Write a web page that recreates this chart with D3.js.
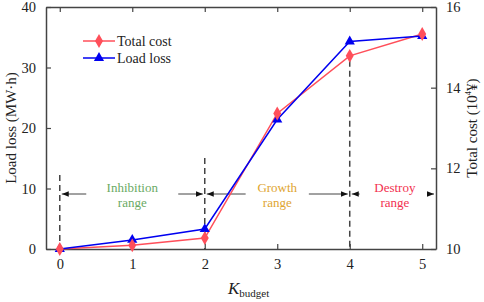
<!DOCTYPE html>
<html>
<head>
<meta charset="utf-8">
<script src="https://cdn.jsdelivr.net/npm/d3@7"></script>
<style>
  body { margin: 0; background: #fff; }
  svg { display: block; font-family: "Liberation Serif", "Times New Roman", serif; }
</style>
</head>
<body>
<svg id="chart" width="484" height="302"></svg>
<script>
// K_budget values
const kBudget = [0, 1, 2, 3, 4, 5];
// Load loss (MW·h), left axis
const loadLoss = [0, 1.5, 3.3, 21.4, 34.3, 35.2];
// Total cost (10^4 ¥), right axis
const totalCost = [10.0, 10.09, 10.27, 13.36, 14.79, 15.33];

const leftTicks = [0, 10, 20, 30, 40];
const rightTicks = [10, 12, 14, 16];

// range annotations
const ranges = [
    { from: 0, to: 2, lines: ['Inhibition', 'range'], color: '#6aaa64' },
    { from: 2, to: 4, lines: ['Growth', 'range'], color: '#e0a530' },
    { from: 4, to: 5.2, lines: ['Destroy', 'range'], color: '#f2304f' }
];
const dashTops = [175, 158, null]; // null -> start under marker

const W = 484, H = 302;
const m = { top: 7, right: 48, bottom: 53, left: 46 };
const w = W - m.left - m.right;
const h = H - m.top - m.bottom;

const svg = d3.select('#chart');
const g = svg.append('g').attr('transform', `translate(${m.left},${m.top})`);

const x = d3.scaleLinear().domain([-0.19, 5.19]).range([0, w]);
const yL = d3.scaleLinear().domain([0, 40]).range([h, 0]);
const yR = d3.scaleLinear().domain([10, 16]).range([h, 0]);

const axisColor = '#444';

// Axes (ticks inward)
const fmt = d3.format('d');
g.append('g').attr('transform', `translate(0,${h})`)
    .call(d3.axisBottom(x).tickValues(kBudget).tickFormat(fmt).tickSizeInner(-5).tickSizeOuter(0).tickPadding(10));
g.append('g')
    .call(d3.axisTop(x).tickValues(kBudget).tickFormat('').tickSizeInner(-5).tickSizeOuter(0));
g.append('g')
    .call(d3.axisLeft(yL).tickValues(leftTicks).tickFormat(fmt).tickSizeInner(-5).tickSizeOuter(0).tickPadding(10));
g.append('g').attr('transform', `translate(${w},0)`)
    .call(d3.axisRight(yR).tickValues(rightTicks).tickFormat(fmt).tickSizeInner(-5).tickSizeOuter(0).tickPadding(10));

g.selectAll('.domain').attr('stroke', axisColor).attr('stroke-width', 1.5);
g.selectAll('.tick line').attr('stroke', axisColor).attr('stroke-width', 1.2);
g.selectAll('.tick text').attr('font-size', 14.5).attr('fill', '#222')
    .attr('font-family', '"Liberation Serif", serif');

// Dashed separators
kBudget.filter(k => k === 0 || k === 2 || k === 4).forEach((k, i) => {
    const top = dashTops[i] != null ? dashTops[i] - m.top : yR(totalCost[k]) + 5;
    g.append('line')
        .attr('x1', x(k)).attr('x2', x(k))
        .attr('y1', top).attr('y2', h)
        .attr('stroke', '#444')
        .attr('stroke-width', 1.5)
        .attr('stroke-dasharray', '6,4');
});

// Arrow markers
const defs = svg.append('defs');
defs.append('marker')
    .attr('id', 'arr')
    .attr('viewBox', '0 0 10 10')
    .attr('refX', 10).attr('refY', 5)
    .attr('markerWidth', 7).attr('markerHeight', 7)
    .attr('markerUnits', 'userSpaceOnUse')
    .attr('orient', 'auto-start-reverse')
    .append('path').attr('d', 'M0,1 L10,5 L0,9 Z').attr('fill', '#111');

const arrowY = 194 - m.top;
ranges.forEach(r => {
    const x0 = x(r.from) + 2;
    const x1 = Math.min(x(r.to), w) - 2;
    const cx = r.to > 5 ? (x(r.from) + w) / 2 + 2 : (x(r.from) + x(r.to)) / 2;
    const half = r.lines[0].length * 3.6 + 10;
    g.append('line')
        .attr('x1', cx - half).attr('x2', x0)
        .attr('y1', arrowY).attr('y2', arrowY)
        .attr('stroke', '#444').attr('stroke-width', 1)
        .attr('marker-end', 'url(#arr)');
    g.append('line')
        .attr('x1', cx + half).attr('x2', x1)
        .attr('y1', arrowY).attr('y2', arrowY)
        .attr('stroke', '#444').attr('stroke-width', 1)
        .attr('marker-end', 'url(#arr)');
    r.lines.forEach((t, i) => {
        g.append('text')
            .attr('x', cx)
            .attr('y', arrowY - 2 + i * 15)
            .attr('text-anchor', 'middle')
            .attr('font-size', 13)
            .attr('fill', r.color)
            .text(t);
    });
});

// Series
const red = '#ff4f5a', blue = '#0000f0';
const lineL = d3.line().x((d, i) => x(kBudget[i])).y(d => yL(d));
const lineR = d3.line().x((d, i) => x(kBudget[i])).y(d => yR(d));

g.append('path').datum(totalCost)
    .attr('d', lineR).attr('fill', 'none')
    .attr('stroke', red).attr('stroke-width', 1.5);
g.append('path').datum(loadLoss)
    .attr('d', lineL).attr('fill', 'none')
    .attr('stroke', blue).attr('stroke-width', 1.5);

const diamond = d3.symbol().type(d3.symbolDiamond).size(55);
const tri = d3.symbol().type(d3.symbolTriangle).size(45);

g.selectAll('.ll').data(loadLoss).enter().append('path')
    .attr('d', tri)
    .attr('transform', (d, i) => `translate(${x(kBudget[i])},${yL(d)})`)
    .attr('fill', blue);
g.selectAll('.tc').data(totalCost).enter().append('path')
    .attr('d', diamond)
    .attr('transform', (d, i) => `translate(${x(kBudget[i])},${yR(d)})`)
    .attr('fill', red);

// Legend
const legend = [
    { label: 'Total cost', color: red, sym: diamond, y: 41 },
    { label: 'Load loss', color: blue, sym: tri, y: 58 }
];
legend.forEach(l => {
    svg.append('line')
        .attr('x1', 83).attr('x2', 115)
        .attr('y1', l.y).attr('y2', l.y)
        .attr('stroke', l.color).attr('stroke-width', 1.5);
    svg.append('path').attr('d', l.sym)
        .attr('transform', `translate(99,${l.y})`)
        .attr('fill', l.color);
    svg.append('text')
        .attr('x', 117).attr('y', l.y + 5)
        .attr('font-size', 14).attr('fill', '#222')
        .text(l.label);
});

// Axis titles
svg.append('text')
    .attr('transform', `translate(16,${m.top + h / 2}) rotate(-90)`)
    .attr('text-anchor', 'middle')
    .attr('font-size', 15).attr('fill', '#222')
    .text('Load loss (MW·h)');

const rt = svg.append('text')
    .attr('transform', `translate(477,${m.top + h / 2}) rotate(-90)`)
    .attr('text-anchor', 'middle')
    .attr('font-size', 15).attr('fill', '#222');
rt.append('tspan').text('Total cost (10');
rt.append('tspan').attr('font-size', 9).attr('dy', -6).text('4');
rt.append('tspan').attr('dy', 6).text('¥)');

const xt = svg.append('text')
    .attr('x', 228).attr('y', 294)
    .attr('font-size', 17).attr('fill', '#222');
xt.append('tspan').attr('font-style', 'italic').text('K');
xt.append('tspan').attr('font-size', 11).attr('dy', 3).text('budget');
</script>
</body>
</html>
